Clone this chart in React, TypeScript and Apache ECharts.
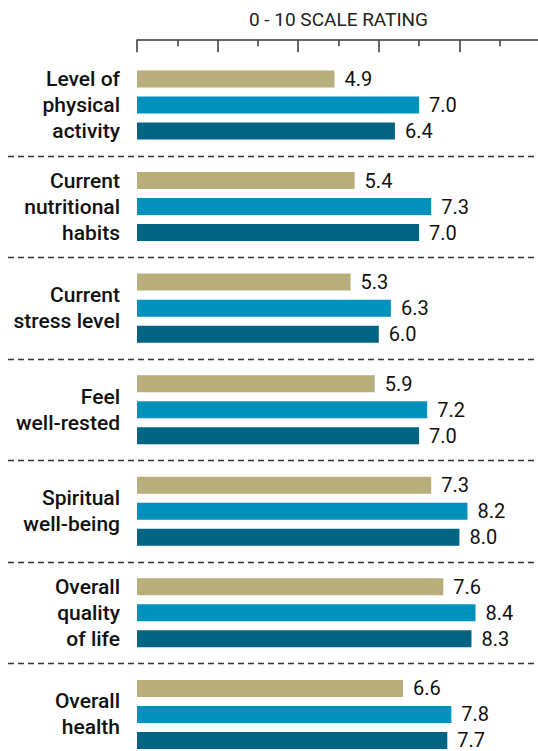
import { useEffect, useRef } from 'react';
import * as echarts from 'echarts';

const categories = [
  'Level of\nphysical\nactivity',
  'Current\nnutritional\nhabits',
  'Current\nstress level',
  'Feel\nwell-rested',
  'Spiritual\nwell-being',
  'Overall\nquality\nof life',
  'Overall\nhealth',
];
const seriesNames = ['Group A', 'Group B', 'Group C'];
const valuesA = [4.9, 5.4, 5.3, 5.9, 7.3, 7.6, 6.6];
const valuesB = [7.0, 7.3, 6.3, 7.2, 8.2, 8.4, 7.8];
const valuesC = [6.4, 7.0, 6.0, 7.0, 8.0, 8.3, 7.7];
const seriesColors = ['#b7ae7b', '#0291bd', '#006482'];
const axisTitle = '0 - 10 SCALE RATING';
const axisMin = 0;
const axisMax = 10;
const axisInterval = 2;

export default function App() {
  const ref = useRef<HTMLDivElement>(null);
  useEffect(() => {
    if (!ref.current) return;
    const chart = echarts.init(ref.current, undefined, { renderer: 'svg' });
    const font = 'Roboto, "Noto Sans", sans-serif';
    const values = [valuesA, valuesB, valuesC];
    chart.setOption({
      animation: false,
      textStyle: { fontFamily: font },
      grid: [
        { left: 137, width: 403, top: 54.2, height: 711, outerBoundsMode: 'none', containLabel: false },
        { left: 8, width: 532, top: 54.2, height: 711, outerBoundsMode: 'none', containLabel: false },
      ],
      xAxis: [
        {
          gridIndex: 0,
          type: 'value',
          min: axisMin,
          max: axisMax,
          interval: axisInterval,
          position: 'top',
          offset: 14,
          axisLine: { show: true, lineStyle: { color: '#333', width: 1.5 } },
          axisTick: { show: true, inside: true, length: 12, lineStyle: { color: '#333', width: 1.5 } },
          minorTick: { show: true, splitNumber: 2, length: 6, lineStyle: { color: '#333', width: 1.5 } },
          axisLabel: { show: false },
          splitLine: { show: false },
          minorSplitLine: { show: false },
          name: axisTitle,
          nameLocation: 'middle',
          nameGap: 11,
          nameTextStyle: { fontSize: 19, color: '#222', fontFamily: font },
        },
        { gridIndex: 1, type: 'value', show: false, min: 0, max: 1 },
      ],
      yAxis: [
        {
          gridIndex: 0,
          type: 'category',
          data: categories,
          inverse: true,
          axisLine: { show: false },
          axisTick: { show: false },
          splitLine: { show: false },
          axisLabel: {
            margin: 17,
            fontSize: 21,
            fontWeight: 500,
            color: '#111',
            lineHeight: 26,
            align: 'right',
            fontFamily: font,
          },
        },
        {
          gridIndex: 1,
          type: 'category',
          data: categories,
          inverse: true,
          axisLine: { show: false },
          axisTick: { show: false },
          axisLabel: { show: false },
          splitLine: {
            show: true,
            interval: 0,
            lineStyle: {
              color: ['rgba(0,0,0,0)', '#333', '#333', '#333', '#333', '#333', '#333', '#333'],
              type: [6, 4],
              width: 1.3,
            },
          },
        },
      ],
      series: values.map((data, i) => ({
        type: 'bar',
        name: seriesNames[i],
        xAxisIndex: 0,
        yAxisIndex: 0,
        data,
        barWidth: 17,
        barGap: '53%',
        itemStyle: { color: seriesColors[i] },
        label: {
          show: true,
          position: 'right',
          distance: 10,
          fontSize: 20,
          color: '#111',
          fontFamily: font,
          formatter: (p: any) => Number(p.value).toFixed(1),
        },
      })),
    });
    return () => chart.dispose();
  }, []);
  return <div ref={ref} style={{ position: 'absolute', left: 0, top: 0, width: 538, height: 751, overflow: 'hidden' }} />;
}
